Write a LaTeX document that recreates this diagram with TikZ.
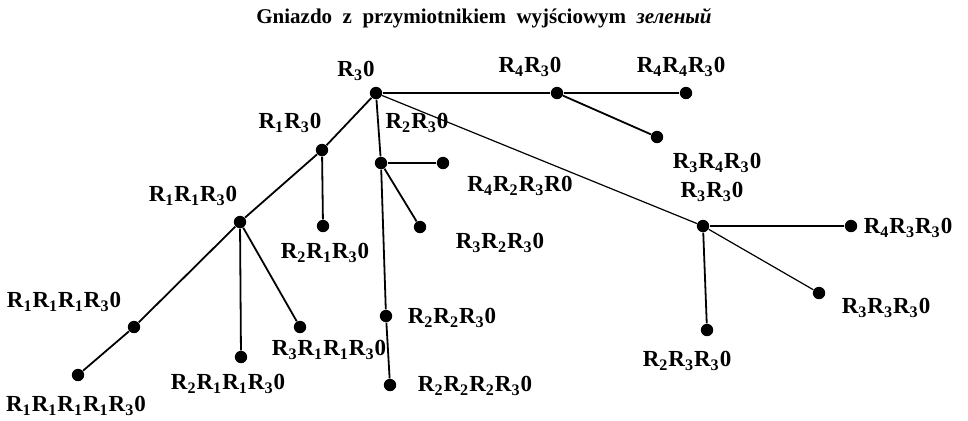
\documentclass[tikz,border=0pt]{standalone}
\usepackage{fontspec}
\setmainfont{Liberation Serif}
\usepackage{tikz}
\usetikzlibrary{positioning}

% derivative label: R with subscripts
\newcommand{\Rd}[1]{R\textsubscript{#1}}

\begin{document}
\begin{tikzpicture}[x=0.5pt, y=-0.5pt, font=\fontsize{11.5}{13}\selectfont\bfseries,
    dot/.style={circle, fill=black, inner sep=0pt, minimum size=6.2pt},
    lbl/.style={inner sep=1pt},
    edge/.style={line width=0.9pt, draw=black},
    thin edge/.style={line width=0.6pt, draw=black}]

    \useasboundingbox (0,0) rectangle (968,420);

    % Title
    \node[font=\fontsize{10.5}{12}\selectfont\bfseries] (title) at (484,18)
      {Gniazdo\ \ z\ \ przymiotnikiem\ \ wyjściowym\ \ \textit{зеленый}};

    % === Root and R4 branch ===
    \node[dot] (r3)   at (376,93) {};
    \node[dot] (r4r3) at (557,93) {};
    \node[dot] (r4r4r3) at (686,93) {};
    \node[dot] (r3r4r3) at (657,137) {};

    \node[lbl] (r3l)     at (356,71)  {\Rd{3}0};
    \node[lbl] (r4r3l)   at (530,67)  {\Rd{4}\Rd{3}0};
    \node[lbl] (r4r4r3l) at (681,67)  {\Rd{4}\Rd{4}\Rd{3}0};
    \node[lbl] (r3r4r3l) at (717,163) {\Rd{3}\Rd{4}\Rd{3}0};

    \draw[edge] (r3) -- (r4r3) -- (r4r4r3);
    \draw[edge] (r4r3) -- (r3r4r3);

    % === LEFT: R1 branch ===
    \node[dot] (r1r3)       at (322,150) {};
    \node[dot] (r2r1r3)     at (323,226) {};
    \node[dot] (r1r1r3)     at (240,222) {};
    \node[dot] (r1r1r1r3)   at (134,327) {};
    \node[dot] (r1r1r1r1r3) at (78,375)  {};
    \node[dot] (r2r1r1r3)   at (241,357) {};
    \node[dot] (r3r1r1r3)   at (300,327) {};

    \node[lbl] (r1r3l)       at (290,123) {\Rd{1}\Rd{3}0};
    \node[lbl] (r2r1r3l)     at (325,253) {\Rd{2}\Rd{1}\Rd{3}0};
    \node[lbl] (r1r1r3l)     at (193,196) {\Rd{1}\Rd{1}\Rd{3}0};
    \node[lbl] (r1r1r1r3l)   at (64,302)  {\Rd{1}\Rd{1}\Rd{1}\Rd{3}0};
    \node[lbl] (r1r1r1r1r3l) at (76,406)  {\Rd{1}\Rd{1}\Rd{1}\Rd{1}\Rd{3}0};
    \node[lbl] (r2r1r1r3l)   at (228,384) {\Rd{2}\Rd{1}\Rd{1}\Rd{3}0};
    \node[lbl] (r3r1r1r3l)   at (329,350) {\Rd{3}\Rd{1}\Rd{1}\Rd{3}0};

    \draw[edge] (r3) -- (r1r3) -- (r1r1r3) -- (r1r1r1r3) -- (r1r1r1r1r3);
    \draw[edge] (r1r3) -- (r2r1r3);
    \draw[edge] (r1r1r3) -- (r2r1r1r3);
    \draw[edge] (r1r1r3) -- (r3r1r1r3);

    % === MIDDLE: R2 branch ===
    \node[dot] (r2r3)     at (381,163) {};
    \node[dot] (r4r2r3)   at (443,163) {};
    \node[dot] (r3r2r3)   at (420,227) {};
    \node[dot] (r2r2r3)   at (386,316) {};
    \node[dot] (r2r2r2r3) at (390,385) {};

    \node[lbl] (r2r3l)     at (417,123) {\Rd{2}\Rd{3}0};
    \node[lbl] (r4r2r3l)   at (520,186) {\Rd{4}\Rd{2}\Rd{3}R0};
    \node[lbl] (r3r2r3l)   at (500,243) {\Rd{3}\Rd{2}\Rd{3}0};
    \node[lbl] (r2r2r3l)   at (452,318) {\Rd{2}\Rd{2}\Rd{3}0};
    \node[lbl] (r2r2r2r3l) at (475,386) {\Rd{2}\Rd{2}\Rd{2}\Rd{3}0};

    \draw[edge] (r3) -- (r2r3) -- (r2r2r3) -- (r2r2r2r3);
    \draw[edge] (r2r3) -- (r4r2r3);
    \draw[edge] (r2r3) -- (r3r2r3);

    % === RIGHT: R3 branch ===
    \node[dot] (r3r3)     at (703,226) {};
    \node[dot] (r4r3r3)   at (851,226) {};
    \node[dot] (r3r3r3)   at (819,293) {};
    \node[dot] (r2r3r3)   at (707,330) {};

    \node[lbl] (r3r3l)   at (712,192) {\Rd{3}\Rd{3}0};
    \node[lbl] (r4r3r3l) at (908,228) {\Rd{4}\Rd{3}\Rd{3}0};
    \node[lbl] (r3r3r3l) at (886,308) {\Rd{3}\Rd{3}\Rd{3}0};
    \node[lbl] (r2r3r3l) at (687,361) {\Rd{2}\Rd{3}\Rd{3}0};

    \draw[thin edge] (r3) -- (r3r3) -- (r3r3r3);
    \draw[edge] (r3r3) -- (r4r3r3);
    \draw[edge] (r3r3) -- (r2r3r3);

\end{tikzpicture}
\end{document}
